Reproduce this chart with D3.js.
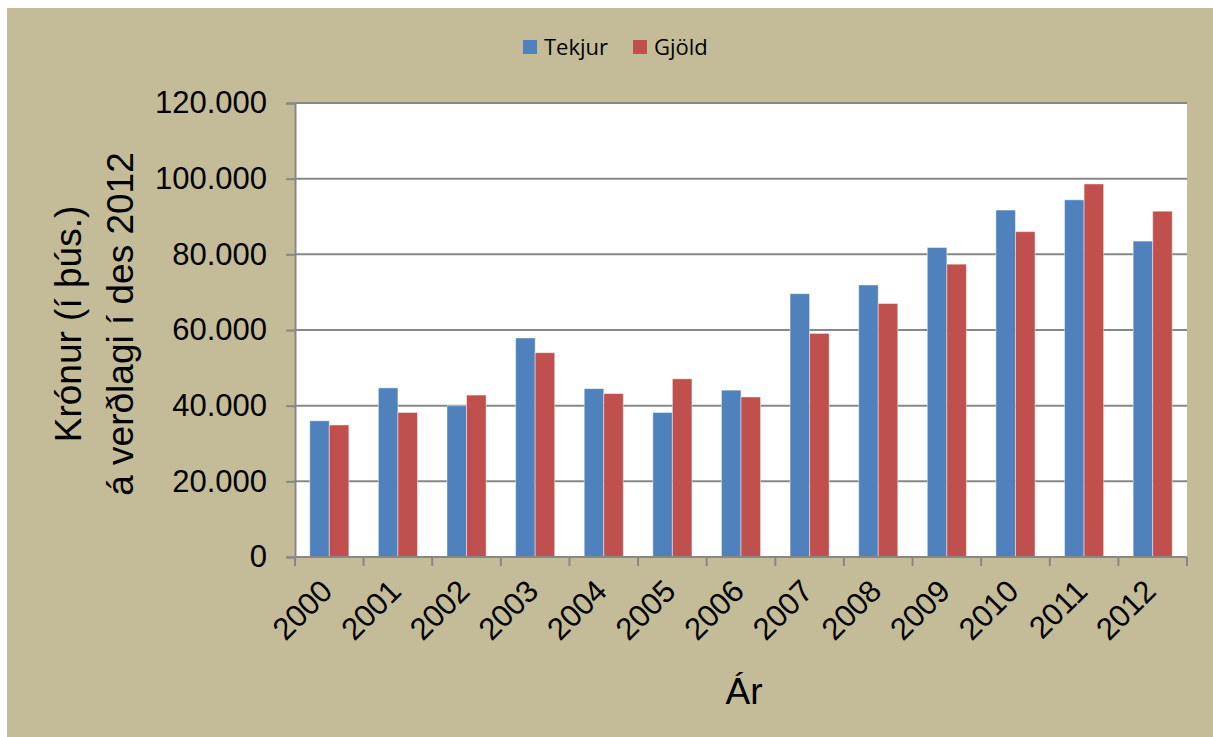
<!DOCTYPE html>
<html>
<head>
<meta charset="utf-8">
<script src="https://cdn.jsdelivr.net/npm/d3@7"></script>
<style>
  body { margin: 0; background: #fff; }
  text { fill: #000; }
</style>
</head>
<body>
<div id="chart"></div>
<script>
// data
var years = ["2000", "2001", "2002", "2003", "2004", "2005", "2006",
             "2007", "2008", "2009", "2010", "2011", "2012"];
var tekjur = [36000, 44700, 40000, 57900, 44500, 38200, 44100,
              69600, 71900, 81800, 91700, 94400, 83500];
var gjold = [34900, 38200, 42800, 54000, 43200, 47100, 42300,
             59100, 67000, 77400, 86000, 98600, 91400];
var seriesNames = ["Tekjur", "Gjöld"];
var seriesColors = ["#4f81bd", "#c0504d"];
var yTicks = [0, 20000, 40000, 60000, 80000, 100000, 120000];

var totalWidth = 1213, totalHeight = 737;
var plot = {left: 295, right: 1187, top: 103, bottom: 557};

var svg = d3.select("#chart").append("svg")
    .attr("width", totalWidth)
    .attr("height", totalHeight);

// outer background
svg.append("rect")
    .attr("x", 7).attr("y", 8)
    .attr("width", totalWidth - 7).attr("height", totalHeight - 8)
    .attr("fill", "#c4bc98");

// plot area
svg.append("rect")
    .attr("x", plot.left).attr("y", plot.top)
    .attr("width", plot.right - plot.left).attr("height", plot.bottom - plot.top)
    .attr("fill", "#fff");

var x0 = d3.scaleBand()
    .domain(years)
    .range([plot.left, plot.right]);

var bw = x0.bandwidth();
var x1 = d3.scaleBand()
    .domain(seriesNames)
    .range([bw * 0.215, bw * 0.785]);

var y = d3.scaleLinear()
    .domain([0, 120000])
    .range([plot.bottom, plot.top]);

var fmt = function(d) { return d3.format(",")(d).replace(/,/g, "."); };

// gridlines
svg.append("g")
  .selectAll("line")
  .data(yTicks.filter(function(d) { return d > 0; }))
  .enter().append("line")
    .attr("x1", plot.left).attr("x2", plot.right)
    .attr("y1", function(d) { return y(d); })
    .attr("y2", function(d) { return y(d); })
    .attr("stroke", "#878787")
    .attr("stroke-width", 2);

// bars
var rows = years.map(function(yr, i) {
  return {year: yr, values: [tekjur[i], gjold[i]]};
});

var group = svg.append("g").selectAll("g")
  .data(rows)
  .enter().append("g")
    .attr("transform", function(d) { return "translate(" + x0(d.year) + ",0)"; });

group.selectAll("rect")
  .data(function(d) {
    return seriesNames.map(function(s, j) { return {key: s, value: d.values[j], color: seriesColors[j]}; });
  })
  .enter().append("rect")
    .attr("x", function(d) { return x1(d.key); })
    .attr("width", x1.bandwidth())
    .attr("y", function(d) { return y(d.value); })
    .attr("height", function(d) { return plot.bottom - y(d.value); })
    .attr("fill", function(d) { return d.color; })
    .attr("stroke", "rgba(255,255,255,0.45)")
    .attr("stroke-width", 1);

// y axis
var yAxis = svg.append("g")
    .attr("transform", "translate(" + plot.left + ",0)")
    .call(d3.axisLeft(y).tickValues(yTicks).tickFormat(fmt).tickSize(9).tickPadding(19));
yAxis.select(".domain").attr("stroke", "#878787").attr("stroke-width", 2);
yAxis.selectAll(".tick line").attr("stroke", "#878787").attr("stroke-width", 2);
yAxis.selectAll(".tick text")
    .attr("font-family", "'Liberation Sans', Arial, sans-serif")
    .attr("font-size", 31)
    .attr("fill", "#000");

// x axis: ticks on band boundaries
var xAxis = svg.append("g")
    .attr("transform", "translate(0," + plot.bottom + ")");
xAxis.append("line")
    .attr("x1", plot.left).attr("x2", plot.right)
    .attr("stroke", "#878787").attr("stroke-width", 2);
xAxis.selectAll(".xtick")
  .data(years.concat(["end"]))
  .enter().append("line")
    .attr("class", "xtick")
    .attr("x1", function(d) { return d === "end" ? plot.right : x0(d); })
    .attr("x2", function(d) { return d === "end" ? plot.right : x0(d); })
    .attr("y1", 0).attr("y2", 9)
    .attr("stroke", "#878787").attr("stroke-width", 2);
xAxis.selectAll(".xlabel")
  .data(years)
  .enter().append("text")
    .attr("class", "xlabel")
    .attr("transform", function(d) {
      return "translate(" + (x0(d) + bw / 2 + 5) + ",36) rotate(-45)";
    })
    .attr("text-anchor", "end")
    .attr("font-family", "'Liberation Sans', Arial, sans-serif")
    .attr("font-size", 31)
    .text(function(d) { return d; });

// axis titles
var yTitle = svg.append("text")
    .attr("transform", "translate(81,324) rotate(-90)")
    .attr("text-anchor", "middle")
    .attr("font-family", "'Liberation Sans', Arial, sans-serif")
    .attr("font-size", 37);
yTitle.append("tspan").attr("x", 0).attr("y", 0).text("Krónur (í þús.)");
yTitle.append("tspan").attr("x", 0).attr("y", 52).text("á verðlagi í des 2012");

svg.append("text")
    .attr("x", 744).attr("y", 704)
    .attr("text-anchor", "middle")
    .attr("font-family", "'Liberation Sans', Arial, sans-serif")
    .attr("font-size", 37)
    .text("Ár");

// legend
var legend = svg.append("g").attr("transform", "translate(523,40)");
var item = legend.selectAll("g")
  .data(seriesNames)
  .enter().append("g")
    .attr("transform", function(d, i) { return "translate(" + (i * 110) + ",0)"; });
item.append("rect")
    .attr("width", 14).attr("height", 14)
    .attr("fill", function(d, i) { return seriesColors[i]; });
item.append("text")
    .attr("x", 21).attr("y", 15)
    .attr("font-family", "'Open Sans', sans-serif")
    .attr("font-size", 22)
    .text(function(d) { return d; });
</script>
</body>
</html>
